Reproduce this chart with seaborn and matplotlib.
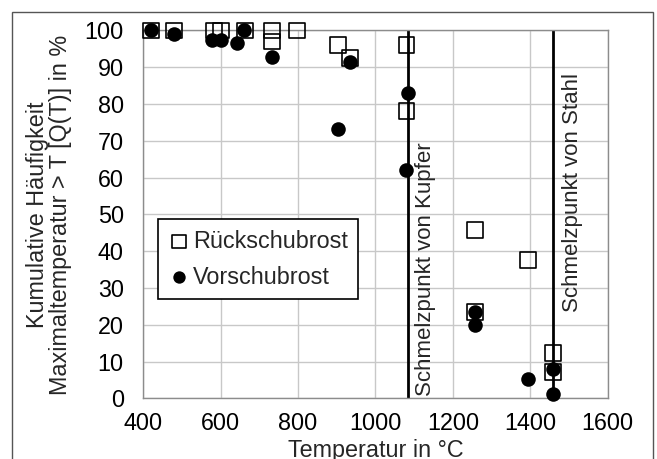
import numpy as np
import pandas as pd
import matplotlib
matplotlib.use("Agg")
import matplotlib.pyplot as plt
import seaborn as sns
from matplotlib.patches import Rectangle

# Rückschubrost (open squares)
rueck_T = [420, 480, 582, 602, 663, 733, 733, 798, 904, 935, 1080, 1080, 1257, 1257, 1393, 1458, 1458]
rueck_q = [100, 100, 100, 100, 100, 100, 97, 100, 96, 92.5, 96, 78, 45.7, 23.4, 37.5, 12.4, 7.1]

# Vorschubrost (filled circles)
vor_T = [421, 479, 578, 601, 641, 661, 733, 904, 934, 1083, 1080, 1257, 1257, 1393, 1458, 1458]
vor_q = [100, 99, 97.5, 97.5, 96.5, 100, 92.8, 73.1, 91.5, 83, 62, 23.5, 20, 5.2, 8, 1.2]

schmelz_kupfer = 1083
schmelz_stahl = 1458

sns.set_style("white")
plt.rcParams["font.family"] = ["Liberation Sans", "DejaVu Sans"]
fs = 16.8

fig = plt.figure(figsize=(6.57, 4.59), dpi=100)
ax = fig.add_axes([0.218, 0.1322, 0.707, 0.8014])

ax.set_xlim(400, 1600)
ax.set_ylim(0, 100)
ax.set_xticks(np.arange(400, 1601, 200))
ax.set_yticks(np.arange(0, 101, 10))
ax.grid(True, color="#c8c8c8", linewidth=1)
ax.set_axisbelow(True)
for s in ax.spines.values():
    s.set_color("#8c8c8c")
    s.set_linewidth(1)
ax.tick_params(length=0, labelsize=fs, colors="black")
ax.tick_params(axis="y", pad=14)
ax.tick_params(axis="x", pad=10)

ax.axvline(schmelz_kupfer, color="black", linewidth=2, zorder=2)
ax.axvline(schmelz_stahl, color="black", linewidth=2, zorder=2)
ax.text(schmelz_kupfer + 45, 0.5, "Schmelzpunkt von Kupfer", rotation=90,
        ha="center", va="bottom", fontsize=16)
ax.text(schmelz_stahl + 50, 88.5, "Schmelzpunkt von Stahl", rotation=90,
        ha="center", va="top", fontsize=16)

sns.scatterplot(x=rueck_T, y=rueck_q, marker="s", s=130, facecolor="none",
                edgecolor="black", linewidth=1.2, ax=ax, label="Rückschubrost",
                clip_on=False, zorder=3)
sns.scatterplot(x=vor_T, y=vor_q, marker="o", s=110, color="black",
                edgecolor="black", linewidth=0, ax=ax, label="Vorschubrost",
                clip_on=False, zorder=4)

leg = ax.legend(loc="lower left", bbox_to_anchor=(0.032, 0.27), fontsize=fs,
                frameon=True, fancybox=False, edgecolor="black", framealpha=1,
                handletextpad=0.15, handlelength=0.9, borderpad=0.45,
                borderaxespad=0, labelspacing=0.55, markerscale=0.85)
leg.get_frame().set_linewidth(1.2)

ax.set_xlabel("Temperatur in °C", fontsize=fs)
ax.xaxis.set_label_coords(0.5, -0.111)
ax.set_ylabel("Kumulative Häufigkeit\nMaximaltemperatur > T [Q(T)] in %", fontsize=fs,
              linespacing=1.0)
ax.yaxis.set_label_coords(-0.154, 0.5)

# outer chart frame (cut off at bottom)
fig.patches.append(Rectangle((12 / 657, -0.1), 641 / 657, 1 - 12 / 459 + 0.1,
                             transform=fig.transFigure, fill=False,
                             edgecolor="#555555", linewidth=1))

fig.savefig("out.png", dpi=100)
